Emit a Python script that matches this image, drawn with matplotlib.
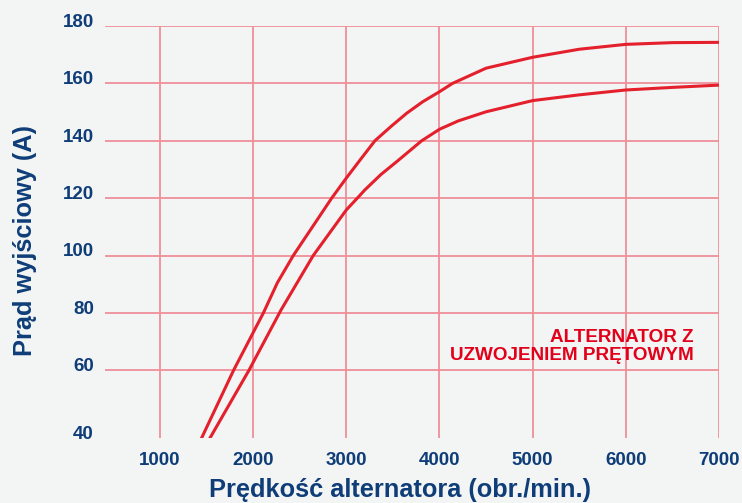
import matplotlib
matplotlib.use("Agg")
import matplotlib.pyplot as plt
from matplotlib.transforms import ScaledTranslation

# ── Data ──────────────────────────────────────────────────────────────────────
rpm_upper = [1447, 1790, 2110, 2260, 2431, 2843, 3000, 3150, 3307, 3480, 3648,
             3820, 4000, 4140, 4500, 5000, 5500, 6000, 6500, 7000]
amp_upper = [36.4, 60.0, 80.0, 90.5, 100.0, 120.0, 127.0, 133.4, 140.0, 145.0, 149.6,
             153.6, 157.1, 160.0, 165.3, 169.1, 171.9, 173.6, 174.2, 174.3]

rpm_lower = [1537, 1955, 2299, 2645, 3000, 3118, 3200, 3370, 3540, 3809, 4000,
             4200, 4500, 5000, 5500, 6000, 6500, 7000]
amp_lower = [36.4, 60.0, 81.0, 100.0, 115.9, 120.0, 122.9, 128.2, 132.7, 140.0, 144.0,
             146.9, 150.1, 154.0, 156.0, 157.7, 158.6, 159.4]

x_ticks = [1000, 2000, 3000, 4000, 5000, 6000, 7000]
y_ticks = [60, 80, 100, 120, 140, 160, 180]
y_bottom_label = "40"

x_label = "Prędkość alternatora (obr./min.)"
y_label = "Prąd wyjściowy (A)"
note = "ALTERNATOR Z\nUZWOJENIEM PRĘTOWYM"

# ── Style ─────────────────────────────────────────────────────────────────────
BG = "#f3f4f4"
NAVY = "#0e3d78"
GRID = "#ef8f9a"
CURVE = "#e3202b"
NOTE = "#e2001a"
plt.rcParams["font.family"] = ["Liberation Sans", "DejaVu Sans"]

fig = plt.figure(figsize=(7.42, 5.03), dpi=100, facecolor=BG)
ax = fig.add_axes([105 / 742, 1 - 438 / 503, 614 / 742, 412 / 503])
ax.set_facecolor(BG)

ax.set_xlim(410, 7000)
ax.set_ylim(36.4, 180)

ax.plot(rpm_upper, amp_upper, color=CURVE, lw=2.2, solid_joinstyle="round", zorder=3)
ax.plot(rpm_lower, amp_lower, color=CURVE, lw=2.2, solid_joinstyle="round", zorder=3)

# ticks: bottom edge carries the "40" label like the reference
ax.set_xticks(x_ticks)
ax.set_yticks([36.4] + y_ticks)
ax.set_yticklabels([y_bottom_label] + [str(v) for v in y_ticks])
ax.tick_params(length=0, labelsize=13.5, labelcolor=NAVY)
ax.tick_params(axis="x", pad=10)
ax.tick_params(axis="y", pad=8)
for lab in ax.get_xticklabels() + ax.get_yticklabels():
    lab.set_fontweight("bold")
shift = ScaledTranslation(0, 0.057, fig.dpi_scale_trans)
for lab in ax.get_yticklabels():
    lab.set_transform(lab.get_transform() + shift)

ax.grid(True, color=GRID, lw=1.3, zorder=1)
ax.yaxis.get_gridlines()[0].set_visible(False)
for s in ax.spines.values():
    s.set_visible(False)

ax.text(0.959, 0.189, note, transform=ax.transAxes, ha="right", va="baseline",
        color=NOTE, fontsize=13.6, fontweight="bold", linespacing=1.05, zorder=4)

fig.text(400 / 742, 1 - 497 / 503, x_label, ha="center", va="baseline",
         color=NAVY, fontsize=18.3, fontweight="bold")
fig.text(25 / 742, 1 - 240 / 503, y_label, ha="center", va="center",
         rotation=90, color=NAVY, fontsize=18.3, fontweight="bold")

fig.savefig("out.png", dpi=100, facecolor=BG)
